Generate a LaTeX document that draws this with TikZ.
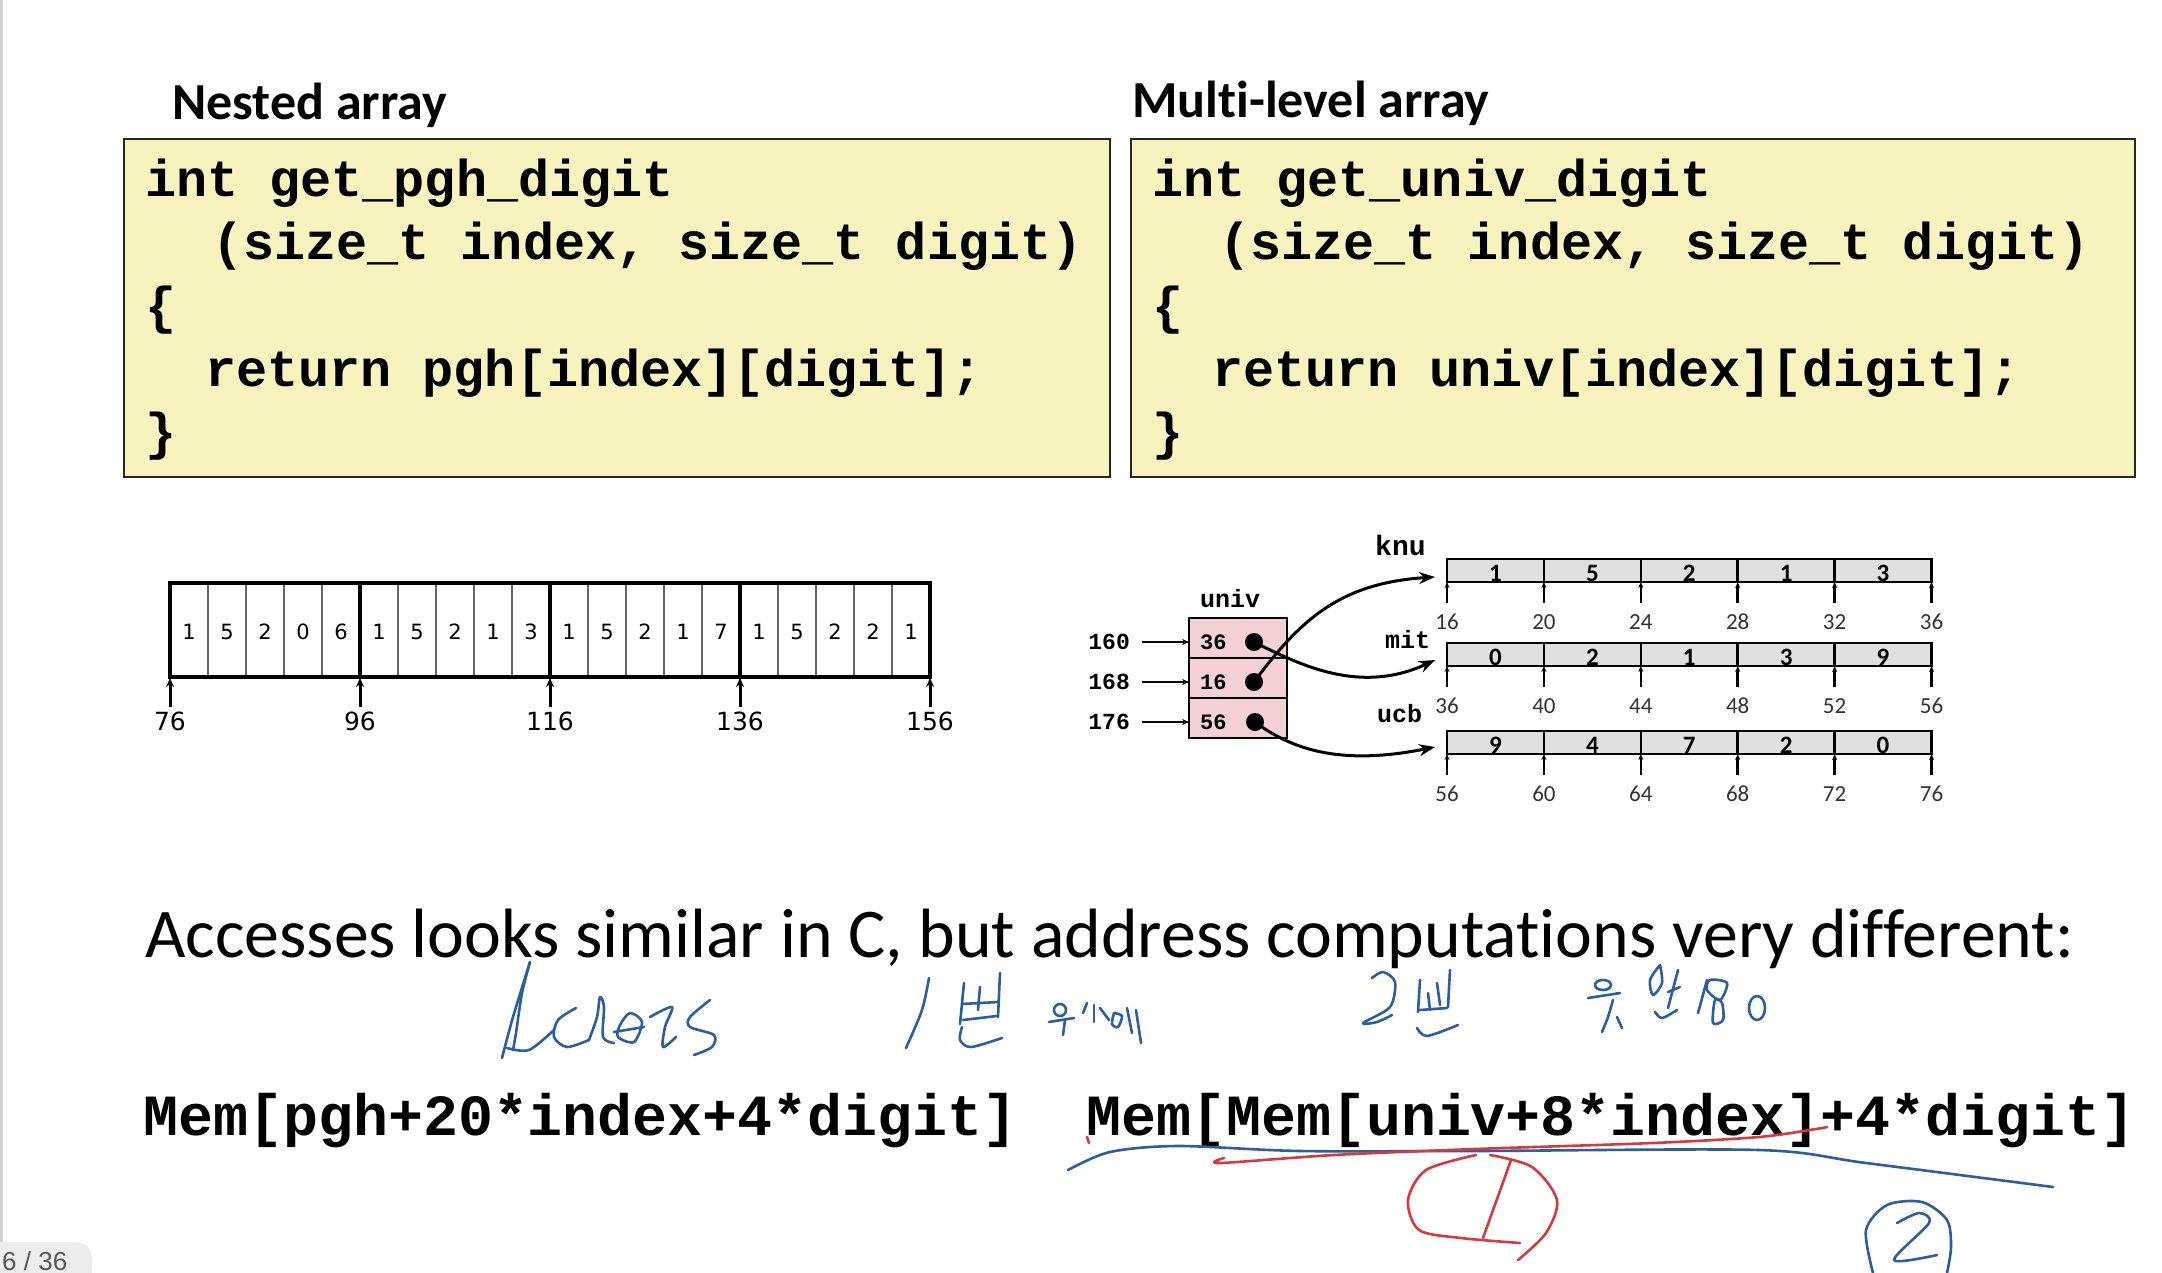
\documentclass[tikz,border=0pt]{standalone}
\usepackage{fontspec}
\setmainfont{Carlito}[Ligatures=NoCommon]
\newfontfamily\codefont{Liberation Mono}
\newfontfamily\djv{DejaVu Sans}
\newfontfamily\pgfont{Liberation Sans}
\usetikzlibrary{arrows.meta}
\definecolor{codeyellow}{HTML}{F6F3BF}
\definecolor{univpink}{HTML}{F3D1D5}
\definecolor{cellgray}{HTML}{E0E0E0}
\definecolor{handblue}{HTML}{2C5F9C}
\definecolor{handred}{HTML}{D63A3C}
\tikzset{
  codebox/.style={draw=black!85, line width=2.5pt, fill=codeyellow},
  codeline/.style={anchor=base west, inner sep=0pt, font={\codefont\bfseries\fontsize{51.8}{60}\selectfont}},
  memline/.style={anchor=base west, inner sep=0pt, font={\codefont\bfseries\fontsize{58.3}{66}\selectfont}},
  titletext/.style={anchor=base west, inner sep=0pt, font={\bfseries\fontsize{52}{60}\selectfont}},
  bigtext/.style={anchor=base west, inner sep=0pt, font={\fontsize{69.8}{78}\selectfont}},
  nestdigit/.style={inner sep=0pt, font={\djv\fontsize{21}{24}\selectfont}},
  nestlab/.style={inner sep=0pt, font={\djv\fontsize{25}{28}\selectfont}},
  thinline/.style={draw=black!60, line width=1.5pt},
  thickline/.style={draw=black, line width=3.5pt},
  tickarrow/.style={draw=black, line width=3pt, -{Stealth[length=9pt,width=8pt]}},
  arrname/.style={anchor=base west, inner sep=0pt, font={\codefont\bfseries\fontsize{25}{28}\selectfont}},
  addrlab/.style={anchor=base east, inner sep=0pt, font={\codefont\bfseries\fontsize{23}{26}\selectfont}},
  univval/.style={anchor=base west, inner sep=0pt, font={\codefont\bfseries\fontsize{22}{26}\selectfont}},
  univcell/.style={draw=black, line width=2.5pt, fill=univpink, minimum width=98pt, minimum height=40pt, inner sep=0pt},
  arrfill/.style={draw=black, line width=2.5pt, fill=cellgray},
  arrline/.style={draw=black, line width=2.5pt},
  mlval/.style={anchor=base, inner sep=0pt, font={\bfseries\fontsize{25}{28}\selectfont}},
  mllab/.style={inner sep=0pt, font={\fontsize{23}{26}\selectfont}, text=black!80},
  smalltick/.style={draw=black, line width=2.5pt, -{Stealth[length=6pt,width=5pt]}},
  addrarrow/.style={draw=black, line width=2pt, -{Stealth[length=7pt,width=6pt]}},
  ptrarrow/.style={draw=black, line width=3pt, -{Stealth[length=16pt,width=12pt]}},
  ptrdot/.style={circle, fill=black, minimum size=18pt, inner sep=0pt},
  hblue/.style={draw=handblue, line width=2.6pt, line cap=round, line join=round},
  hred/.style={draw=handred, line width=2.6pt, line cap=round, line join=round}
}
\newcommand{\mlrow}[4]{%
  \draw[arrfill] (1447,#2) rectangle (1931.5,#2+23);
  \foreach \v [count=\i from 0] in {#3} {
    \node[mlval] (#1v\i) at (1447+96.9*\i+48.45, #2+22) {\v};
  }
  \foreach \i in {1,...,4} \draw[arrline] (1447+96.9*\i,#2) -- (1447+96.9*\i,#2+23);
  \foreach \i in {0,...,5} {
    \pgfmathtruncatemacro\addr{#4+4*\i}
    \coordinate (#1t\i) at (1447+96.9*\i,#2+23);
    \coordinate (#1b\i) at (1447+96.9*\i,#2+44);
    \draw[smalltick] (#1b\i) -- (#1t\i);
    \node[mllab] (#1l\i) at (1447+96.9*\i,#2+63) {\addr};
  }
}
\begin{document}
\begin{tikzpicture}[x=1pt,y=-1pt]
\useasboundingbox (0,0) rectangle (2162,1273);
\clip (0,0) rectangle (2162,1273);
\fill[white] (0,0) rectangle (2162,1273);
% page edge and counter
\draw[black!18, line width=3pt] (1.5,0) -- (1.5,1242);
\fill[black!7, rounded corners=16pt] (-30,1242) rectangle (92,1310);
\node[anchor=base west, inner sep=0pt, text=black!65, font={\pgfont\fontsize{26}{30}\selectfont}] (pg) at (2,1270) {6 / 36};

% titles
\node[titletext] (t1) at (172,120) {Nested array};
\node[titletext] (t2) at (1132,118) {Multi-level array};

% code boxes
\draw[codebox] (124,139) rectangle (1110,477);
\draw[codebox] (1131,139) rectangle (2135,477);
\node[codeline] (a1) at (145,197) {int get\_pgh\_digit};
\node[codeline] (a2) at (212,260) {(size\_t index, size\_t digit)};
\node[codeline] (a3) at (145,323) {\{};
\node[codeline] (a4) at (205,386) {return pgh[index][digit];};
\node[codeline] (a5) at (145,449) {\}};
\node[codeline] (b1) at (1152,197) {int get\_univ\_digit};
\node[codeline] (b2) at (1219,260) {(size\_t index, size\_t digit)};
\node[codeline] (b3) at (1152,323) {\{};
\node[codeline] (b4) at (1212,386) {return univ[index][digit];};
\node[codeline] (b5) at (1152,449) {\}};

% nested array
\foreach \v [count=\i from 0] in {1,5,2,0,6,1,5,2,1,3,1,5,2,1,7,1,5,2,2,1} {
  \node[nestdigit] (n\i) at (170+38*\i+19, 632) {\v};
}
\foreach \k in {1,2,3,4,6,7,8,9,11,12,13,14,16,17,18,19} \draw[thinline] (170+38*\k,585) -- (170+38*\k,675);
\draw[thickline] (170,583) rectangle (930,677);
\foreach \k in {5,10,15} \draw[thickline] (170+38*\k,583) -- (170+38*\k,677);
\foreach \k/\lab in {0/76,1/96,2/116,3/136,4/156} {
  \coordinate (nb\k) at (170+190*\k,707);
  \coordinate (nt\k) at (170+190*\k,678);
  \draw[tickarrow] (nb\k) -- (nt\k);
  \node[nestlab] (nl\k) at (170+190*\k,721) {\lab};
}

% multi-level: univ
\node[arrname] (univlab) at (1200,607) {univ};
\node[univcell] (u0) at (1238,638) {};
\node[univcell] (u1) at (1238,678) {};
\node[univcell] (u2) at (1238,718) {};
\node[univval] (uv0) at (1200,649) {36};
\node[univval] (uv1) at (1200,689) {16};
\node[univval] (uv2) at (1200,729) {56};
\node[ptrdot] (d0) at (1254,642) {};
\node[ptrdot] (d1) at (1254,682) {};
\node[ptrdot] (d2) at (1255,722) {};
\node[addrlab] (ad0) at (1130,649) {160};
\node[addrlab] (ad1) at (1130,689) {168};
\node[addrlab] (ad2) at (1130,729) {176};
\coordinate (ae0) at (1189,642);
\coordinate (ae1) at (1189,682);
\coordinate (ae2) at (1189,722);
\draw[addrarrow] (ad0.east |- ae0) ++(12,0) -- (ae0);
\draw[addrarrow] (ad1.east |- ae1) ++(12,0) -- (ae1);
\draw[addrarrow] (ad2.east |- ae2) ++(12,0) -- (ae2);

% arrays
\node[anchor=base west, inner sep=0pt, font={\codefont\bfseries\fontsize{28}{30}\selectfont}] (knulab) at (1375,555) {knu};
\node[arrname] (mitlab) at (1385,648) {mit};
\node[arrname] (ucblab) at (1377,722) {ucb};
\mlrow{knu}{559}{1,5,2,1,3}{16}
\mlrow{mit}{643}{0,2,1,3,9}{36}
\mlrow{ucb}{731}{9,4,7,2,0}{56}
\coordinate (knuin) at (1435,577);
\coordinate (mitin) at (1435,660);
\coordinate (ucbin) at (1435,747);
\draw[ptrarrow] (d0.center) .. controls (1300,665) and (1360,695) .. (mitin);
\draw[ptrarrow] (d1.center) .. controls (1300,620) and (1340,583) .. (knuin);
\draw[ptrarrow] (d2.center) .. controls (1295,752) and (1345,765) .. (ucbin);

% bottom texts
\node[bigtext] (acc) at (145,957) {Accesses looks similar in C, but address computations very different:};
\node[memline] (m1) at (143,1135) {Mem[pgh+20*index+4*digit]};
\node[memline] (m2) at (1086,1135) {Mem[Mem[univ+8*index]+4*digit]};

% handwriting: Acess
\draw[hblue] plot[smooth] coordinates {(502,1058) (513,1017) (530,962)};
\draw[hblue] plot[smooth] coordinates {(530,962) (522,993) (516,1033) (513,1050)};
\draw[hblue] plot[smooth] coordinates {(507,1048) (529,1050) (554,1030)};
\draw[hblue] plot[smooth] coordinates {(576,1008) (558,1020) (554,1037) (567,1047) (589,1040)};
\draw[hblue] plot[smooth] coordinates {(589,1040) (597,1017) (600,997) (604,1007) (603,1037) (614,1043)};
\draw[hblue] plot[smooth cycle] coordinates {(620,1025) (630,1013) (642,1022) (634,1042) (618,1037)};
\draw[hblue] (614,1032) -- (644,1027);
\draw[hblue] plot[smooth] coordinates {(650,1017) (672,1007) (665,1027) (663,1047) (676,1037)};
\draw[hblue] plot[smooth] coordinates {(710,1000) (690,1017) (690,1027) (714,1035) (712,1047) (694,1055)};
% 1번
\draw[hblue] plot[smooth] coordinates {(929,978) (922,1010) (906,1048)};
\draw[hblue] (964,983) -- (960,1024);
\draw[hblue] (1000,973) -- (998,1017);
\draw[hblue] (962,1004) -- (998,1002);
\draw[hblue] (963,1020) -- (997,1016);
\draw[hblue] (980,987) -- (978,1010);
\draw[hblue] plot[smooth] coordinates {(962,1027) (960,1040) (971,1047) (1002,1038)};
% small note
\draw[hblue] (1060,1010) circle (6);
\draw[hblue] (1049,1022) -- (1074,1018);
\draw[hblue] (1065,1020) -- (1063,1035);
\draw[hblue] (1083,1013) -- (1087,1003);
\draw[hblue] (1094,1005) -- (1094,1022);
\draw[hblue] (1100,1008) -- (1109,1020);
\draw[hblue] plot[smooth] coordinates {(1114,1013) (1112,1024) (1118,1027) (1122,1016) (1114,1013)};
\draw[hblue] (1127,1008) -- (1132,1033);
\draw[hblue] (1136,1010) -- (1141,1043);
% 2번
\draw[hblue] plot[smooth] coordinates {(1372,978) (1383,972) (1395,982) (1390,1007) (1363,1023) (1377,1022) (1392,1015)};
\draw[hblue] (1420,980) -- (1418,1012);
\draw[hblue] (1450,970) -- (1448,1007);
\draw[hblue] (1420,1010) -- (1447,1008);
\draw[hblue] (1428,993) -- (1430,1010);
\draw[hblue] (1437,983) -- (1440,1005);
\draw[hblue] plot[smooth] coordinates {(1417,1028) (1427,1036) (1458,1025)};
% second note
\draw[hblue] (1603,985) ellipse (8 and 5);
\draw[hblue] (1588,998) -- (1620,993);
\draw[hblue] plot[smooth] coordinates {(1613,1000) (1608,1017) (1602,1032)};
\draw[hblue] (1617,1017) -- (1622,1028);
\draw[hblue] plot[smooth] coordinates {(1660,965) (1650,980) (1653,995) (1662,983) (1660,965)};
\draw[hblue] (1678,970) -- (1668,1008);
\draw[hblue] (1668,992) -- (1680,987);
\draw[hblue] plot[smooth] coordinates {(1655,1012) (1662,1018) (1677,1010)};
\draw[hblue] (1707,980) -- (1698,1013);
\draw[hblue] plot[smooth cycle] coordinates {(1710,980) (1727,983) (1720,1000) (1707,990)};
\draw[hblue] plot[smooth cycle] coordinates {(1715,1000) (1713,1023) (1723,1020) (1722,1003)};
\draw[hblue] (1757,1008) ellipse (8 and 12);
% underlines
\draw[hblue] plot[smooth] coordinates {(1068,1170) (1110,1152) (1178,1146) (1300,1151) (1475,1151) (1759,1150) (1866,1163) (2053,1187)};
\draw[hred] (1087,1137) -- (1089,1143);
\draw[hred] plot[smooth] coordinates {(1224,1158) (1220,1163) (1334,1155) (1475,1149) (1653,1143) (1759,1137) (1816,1129) (1827,1127)};
% circled 1
\draw[hred] plot[smooth] coordinates {(1476,1155) (1426,1170) (1408,1200) (1419,1230) (1461,1238) (1520,1243)};
\draw[hred] plot[smooth] coordinates {(1490,1155) (1532,1167) (1557,1200) (1546,1233) (1518,1260)};
\draw[hred] (1511,1160) -- (1483,1238);
% circled 2
\draw[hblue] plot[smooth] coordinates {(1873,1273) (1866,1230) (1887,1205) (1922,1202) (1947,1220) (1951,1247) (1947,1273)};
\draw[hblue] plot[smooth] coordinates {(1897,1223) (1919,1213) (1929,1223) (1894,1260) (1937,1255)};
\end{tikzpicture}
\end{document}
